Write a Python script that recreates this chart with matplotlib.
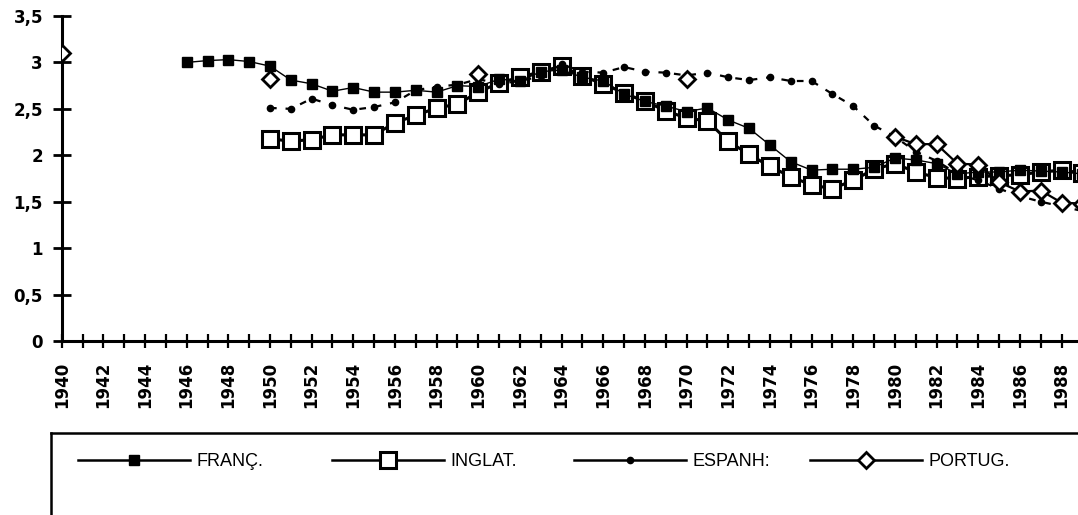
import numpy as np
import matplotlib
matplotlib.use("Agg")
import matplotlib.pyplot as plt
from matplotlib.lines import Line2D
from matplotlib.ticker import FixedLocator, FixedFormatter, MultipleLocator

years = list(range(1940, 1990))
nan = np.nan

france = {1946: 3.00, 1947: 3.02, 1948: 3.03, 1949: 3.01, 1950: 2.96, 1951: 2.81,
          1952: 2.77, 1953: 2.69, 1954: 2.73, 1955: 2.68, 1956: 2.68, 1957: 2.70,
          1958: 2.68, 1959: 2.75, 1960: 2.74, 1961: 2.82, 1962: 2.80, 1963: 2.90,
          1964: 2.92, 1965: 2.84, 1966: 2.80, 1967: 2.66, 1968: 2.58, 1969: 2.53,
          1970: 2.47, 1971: 2.51, 1972: 2.38, 1973: 2.29, 1974: 2.11, 1975: 1.93,
          1976: 1.84, 1977: 1.85, 1978: 1.85, 1979: 1.87, 1980: 1.97, 1981: 1.95,
          1982: 1.91, 1983: 1.80, 1984: 1.82, 1985: 1.82, 1986: 1.84, 1987: 1.83,
          1988: 1.82, 1989: 1.80}

inglat = {1950: 2.18, 1951: 2.15, 1952: 2.17, 1953: 2.22, 1954: 2.22, 1955: 2.22,
          1956: 2.35, 1957: 2.43, 1958: 2.51, 1959: 2.55, 1960: 2.68, 1961: 2.78,
          1962: 2.84, 1963: 2.90, 1964: 2.96, 1965: 2.85, 1966: 2.77, 1967: 2.67,
          1968: 2.58, 1969: 2.48, 1970: 2.40, 1971: 2.37, 1972: 2.15, 1973: 2.01,
          1974: 1.88, 1975: 1.77, 1976: 1.68, 1977: 1.64, 1978: 1.73, 1979: 1.85,
          1980: 1.91, 1981: 1.82, 1982: 1.76, 1983: 1.75, 1984: 1.77, 1985: 1.78,
          1986: 1.79, 1987: 1.82, 1988: 1.84, 1989: 1.81}

espanh = {1950: 2.51, 1951: 2.50, 1952: 2.61, 1953: 2.54, 1954: 2.49, 1955: 2.52,
          1956: 2.57, 1957: 2.70, 1958: 2.74, 1959: 2.76, 1960: 2.82, 1961: 2.77,
          1962: 2.80, 1963: 2.85, 1964: 2.98, 1965: 2.90, 1966: 2.89, 1967: 2.95,
          1968: 2.90, 1969: 2.89, 1970: 2.86, 1971: 2.89, 1972: 2.84, 1973: 2.81,
          1974: 2.84, 1975: 2.80, 1976: 2.80, 1977: 2.66, 1978: 2.53, 1979: 2.32,
          1980: 2.20, 1981: 2.04, 1982: 1.94, 1983: 1.80, 1984: 1.73, 1985: 1.64,
          1986: 1.56, 1987: 1.50, 1988: 1.45, 1989: 1.40}

portug = {1940: 3.10, 1950: 2.82, 1960: 2.88, 1970: 2.82, 1980: 2.20, 1981: 2.12,
          1982: 2.12, 1983: 1.91, 1984: 1.90, 1985: 1.71, 1986: 1.61, 1987: 1.62,
          1988: 1.49, 1989: 1.48}

series_names = ["FRANÇ.", "INGLAT.", "ESPANH:", "PORTUG."]
ytick_vals = [0, 0.5, 1, 1.5, 2, 2.5, 3, 3.5]
ytick_labels = ["0", "0,5", "1", "1,5", "2", "2,5", "3", "3,5"]
xtick_labels = [str(y) for y in range(1940, 1990, 2)]


def full(d):
    return np.array([d.get(y, nan) for y in years], dtype=float)


plt.rcParams['font.family'] = ['DejaVu Sans']

W, H = 1078, 515
fig = plt.figure(figsize=(W / 100, H / 100), dpi=100)
ax_left = 61.7 / W
ax_bottom = (H - 341) / H
ax_top = (H - 16) / H
ax = fig.add_axes([ax_left, ax_bottom, 1.0 - ax_left, ax_top - ax_bottom])

x = np.array(years)
h_fr, = ax.plot(x, full(france), color='black', lw=1.0, marker='s', ms=7.5,
                mfc='black', mec='black', zorder=3)
h_in, = ax.plot(x, full(inglat), color='black', lw=2.2, marker='s', ms=12,
                mfc='white', mec='black', mew=2.2, zorder=2)
h_es, = ax.plot(x, full(espanh), color='black', lw=1.6, ls=(0, (3, 4)),
                marker='o', ms=4.5, mfc='black', mec='black', zorder=4)
h_pt, = ax.plot(x, full(portug), color='black', lw=1.6, marker='D', ms=8.5,
                mfc='white', mec='black', mew=2.0, zorder=5)

ax.set_xlim(1940, 1940 + (W - 61.7) / 20.83)
ax.set_ylim(0, 3.5)
for s in ['top', 'right']:
    ax.spines[s].set_visible(False)
for s in ['left', 'bottom']:
    ax.spines[s].set_linewidth(2.2)

ax.yaxis.set_major_locator(FixedLocator(ytick_vals))
ax.yaxis.set_major_formatter(FixedFormatter(ytick_labels))
ax.xaxis.set_major_locator(FixedLocator(list(range(1940, 1990, 2))))
ax.xaxis.set_major_formatter(FixedFormatter(xtick_labels))
ax.xaxis.set_minor_locator(MultipleLocator(1))

ax.tick_params(axis='y', direction='inout', length=13, width=2.0, pad=7,
               labelsize=12)
ax.tick_params(axis='x', which='both', direction='inout', length=10, width=1.6,
               pad=10, labelsize=12, labelrotation=90)
for lab in ax.get_yticklabels() + ax.get_xticklabels():
    lab.set_fontweight('bold')
ax.patch.set_visible(False)

# legend box (top and left borders, rest cropped by the image edge)
box_top = 1 - 433 / H
box_left = 51 / W
fig.add_artist(Line2D([box_left, 1.0], [box_top, box_top], transform=fig.transFigure,
                      color='black', lw=1.8))
fig.add_artist(Line2D([box_left, box_left], [0, box_top], transform=fig.transFigure,
                      color='black', lw=1.8))

leg_y = 1 - 462 / H
fs = 13
em_px = fs * 100 / 72
text_starts = [196, 450, 692, 928]
handle_px = 112
handles = [h_fr, h_in, h_es, h_pt]
for hnd, name, ts in zip(handles, series_names, text_starts):
    pad_em = 0.35
    xs = ts - pad_em * em_px - handle_px
    lg = fig.legend(handles=[hnd], labels=[name], loc='center left',
                    bbox_to_anchor=(xs / W, leg_y), frameon=False, numpoints=1,
                    handlelength=handle_px / em_px, handletextpad=pad_em,
                    borderpad=0, borderaxespad=0,
                    prop={'family': ['Liberation Sans', 'DejaVu Sans'], 'size': fs})
    for lh in lg.legend_handles:
        lh.set_linestyle('-')
        lh.set_linewidth(1.8)

fig.savefig('out.png', dpi=100)
